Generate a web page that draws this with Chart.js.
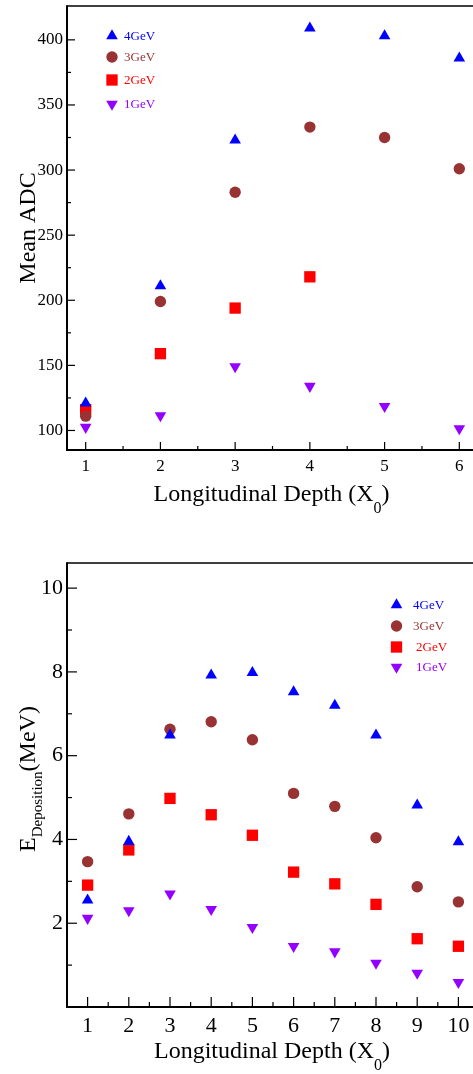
<!DOCTYPE html>
<html><head><meta charset="utf-8">
<script src="https://cdn.jsdelivr.net/npm/chart.js@4/dist/chart.umd.min.js"></script>
<style>
html,body{margin:0;padding:0;width:473px;height:1074px;overflow:hidden;background:#fff;}
canvas{position:absolute;left:0;}
#c1{top:0;}
#c2{top:540px;}
</style></head><body>
<canvas id="c1" width="478" height="530"></canvas>
<canvas id="c2" width="479" height="534"></canvas>
<script>
// ---------- data ----------
const seriesLabels = ['4GeV', '3GeV', '2GeV', '1GeV'];

const depthTop = [1, 2, 3, 4, 5, 6];
const adc4GeV = [121, 211, 323, 409, 403, 386];
const adc3GeV = [111, 199, 283, 333, 325, 301];
const adc2GeV = [116, 159, 194, 218];
const adc1GeV = [102.5, 111.5, 149, 134, 118.5, 101.5];

const depthBottom = [1, 2, 3, 4, 5, 6, 7, 8, 9, 10];
const edep4GeV = [2.55, 3.95, 6.49, 7.92, 7.98, 7.52, 7.20, 6.49, 4.82, 3.94];
const edep3GeV = [3.47, 4.61, 6.63, 6.81, 6.38, 5.10, 4.79, 4.04, 2.87, 2.51];
const edep2GeV = [2.91, 3.75, 4.98, 4.59, 4.10, 3.22, 2.94, 2.45, 1.63, 1.45];
const edep1GeV = [2.12, 2.30, 2.70, 2.33, 1.90, 1.45, 1.32, 1.05, 0.81, 0.59];

const topXTicks = [1, 2, 3, 4, 5, 6];
const topXMinor = [1.5, 2.5, 3.5, 4.5, 5.5];
const topYTicks = [100, 150, 200, 250, 300, 350, 400];
const topYMinor = [125, 175, 225, 275, 325, 375];
const botXTicks = [1, 2, 3, 4, 5, 6, 7, 8, 9, 10];
const botXMinor = [1.5, 2.5, 3.5, 4.5, 5.5, 6.5, 7.5, 8.5, 9.5];
const botYTicks = [2, 4, 6, 8, 10];
const botYMinor = [1, 3, 5, 7, 9];

// ---------- styles ----------
const SERIF = '"Liberation Serif", "DejaVu Serif", serif';
const seriesStyle = [
  {color: '#0000ff', pointStyle: 'triangle', radius: 6.7, rotation: 0},
  {color: '#993333', pointStyle: 'circle', radius: 5.7, rotation: 0},
  {color: '#ff0000', pointStyle: 'rect', radius: 8, rotation: 0},
  {color: '#9400ff', pointStyle: 'triangle', radius: 6.7, rotation: 180}
];

function makeDatasets(xs, seriesList) {
  return seriesList.map((ys, i) => ({
    label: seriesLabels[i],
    data: ys.map((y, j) => ({x: xs[j], y: y})),
    showLine: false,
    clip: false,
    pointStyle: seriesStyle[i].pointStyle,
    pointRadius: seriesStyle[i].radius,
    pointRotation: seriesStyle[i].rotation,
    pointBackgroundColor: seriesStyle[i].color,
    pointBorderColor: seriesStyle[i].color,
    pointBorderWidth: 0
  }));
}

const decor = {
  id: 'decor',
  afterDraw(chart, args, o) {
    const ctx = chart.ctx, a = chart.chartArea;
    const xs = chart.scales.x, ys = chart.scales.y;
    ctx.save();
    ctx.strokeStyle = '#000';
    ctx.lineWidth = 1.2;
    const seg = (x1, y1, x2, y2) => { ctx.beginPath(); ctx.moveTo(x1, y1); ctx.lineTo(x2, y2); ctx.stroke(); };
    o.xMajor.forEach(v => { const p = xs.getPixelForValue(v); seg(p, a.bottom, p, a.bottom - o.majorLen); });
    o.xMinor.forEach(v => { const p = xs.getPixelForValue(v); seg(p, a.bottom, p, a.bottom - o.minorLen); });
    o.yMajor.forEach(v => { const p = ys.getPixelForValue(v); seg(a.left, p, a.left + o.majorLen, p); });
    o.yMinor.forEach(v => { const p = ys.getPixelForValue(v); seg(a.left, p, a.left + o.minorLen, p); });
    // frame
    ctx.lineWidth = 1.5;
    seg(a.left, a.top, a.right, a.top);
    seg(a.right, a.top, a.right, a.bottom);
    ctx.lineWidth = 2;
    seg(a.left, a.top - 0.75, a.left, a.bottom + 1);
    seg(a.left - 1, a.bottom, a.right, a.bottom);

    ctx.fillStyle = '#000';
    ctx.textBaseline = 'alphabetic';
    ctx.textAlign = 'left';
    const measure = parts => parts.reduce((s, p) => { ctx.font = p.size + 'px ' + SERIF; return s + ctx.measureText(p.t).width; }, 0);
    // x title
    {
      const w = measure(o.xTitle);
      let x = (a.left + a.right) / 2 - w / 2 + o.xTitleShift;
      o.xTitle.forEach(p => { ctx.font = p.size + 'px ' + SERIF; ctx.fillText(p.t, x, o.xTitleBase + p.dy); x += ctx.measureText(p.t).width; });
    }
    // y title (rotated)
    {
      const w = measure(o.yTitle);
      ctx.save();
      ctx.translate(o.yTitleBase, (a.top + a.bottom) / 2 + o.yTitleShift);
      ctx.rotate(-Math.PI / 2);
      let x = -w / 2;
      o.yTitle.forEach(p => { ctx.font = p.size + 'px ' + SERIF; ctx.fillText(p.t, x, p.dy); x += ctx.measureText(p.t).width; });
      ctx.restore();
    }
    // legend
    chart.data.datasets.forEach((ds, i) => {
      const st = seriesStyle[i];
      const L = o.legend;
      const my = L.ys[i];
      ctx.fillStyle = st.color;
      ctx.strokeStyle = st.color;
      Chart.helpers.drawPoint(ctx, {pointStyle: st.pointStyle, radius: st.radius * L.scale, rotation: st.rotation, borderWidth: 0}, L.mx, my);
      ctx.font = L.font + 'px ' + SERIF;
      ctx.textBaseline = 'middle';
      ctx.fillText(ds.label, L.tx[i], my + 1);
      ctx.textBaseline = 'alphabetic';
    });
    ctx.restore();
  }
};

function zeroPad(s) { s.paddingTop = 0; s.paddingBottom = 0; s.paddingLeft = 0; s.paddingRight = 0; }

function makeChart(id, xs, seriesList, cfg) {
  const canvas = document.getElementById(id);
  return new Chart(canvas, {
    type: 'scatter',
    data: {datasets: makeDatasets(xs, seriesList)},
    options: {
      responsive: false,
      animation: false,
      devicePixelRatio: 1,
      events: [],
      layout: {autoPadding: false, padding: {top: cfg.padTop, left: 0, right: 0, bottom: 0}},
      plugins: {legend: {display: false}, tooltip: {enabled: false}, decor: cfg.decor},
      scales: {
        x: {
          type: 'linear', min: cfg.xMin, max: cfg.xMax,
          grid: {display: false, drawTicks: false}, border: {display: false},
          ticks: {font: {family: SERIF, size: cfg.tickFont}, color: '#000', padding: cfg.xPad, autoSkip: false, maxRotation: 0},
          afterBuildTicks: s => { s.ticks = cfg.decor.xMajor.map(v => ({value: v})); },
          afterFit: s => { s.height = canvas.height - cfg.plotBottom; zeroPad(s); }
        },
        y: {
          type: 'linear', min: cfg.yMin, max: cfg.yMax,
          grid: {display: false, drawTicks: false}, border: {display: false},
          ticks: {font: {family: SERIF, size: cfg.tickFont}, color: '#000', padding: 4, autoSkip: false},
          afterBuildTicks: s => { s.ticks = cfg.decor.yMajor.map(v => ({value: v})); },
          afterFit: s => { s.width = 67; zeroPad(s); }
        }
      }
    },
    plugins: [decor]
  });
}

makeChart('c1', depthTop, [adc4GeV, adc3GeV, adc2GeV, adc1GeV], {
  padTop: 6, plotBottom: 450, xMin: 0.75, xMax: 6.25, yMin: 85, yMax: 426, tickFont: 17, xPad: 6,
  decor: {
    xMajor: topXTicks, xMinor: topXMinor, yMajor: topYTicks, yMinor: topYMinor, majorLen: 8, minorLen: 4,
    xTitle: [{t: 'Longitudinal Depth (X', size: 24, dy: 0}, {t: '0', size: 16, dy: 12}, {t: ')', size: 24, dy: 0}],
    xTitleBase: 501, xTitleShift: -1,
    yTitle: [{t: 'Mean ADC', size: 24, dy: 0}],
    yTitleBase: 35, yTitleShift: 0,
    legend: {mx: 112, ys: [36, 57, 80, 104], tx: [124, 124, 124, 124], font: 13, scale: 1}
  }
});

makeChart('c2', depthBottom, [edep4GeV, edep3GeV, edep2GeV, edep1GeV], {
  padTop: 23, plotBottom: 467, xMin: 0.5, xMax: 10.5, yMin: 0, yMax: 10.6, tickFont: 22, xPad: 6,
  decor: {
    xMajor: botXTicks, xMinor: botXMinor, yMajor: botYTicks, yMinor: botYMinor, majorLen: 10, minorLen: 5,
    xTitle: [{t: 'Longitudinal Depth (X', size: 24, dy: 0}, {t: '0', size: 16, dy: 12}, {t: ')', size: 24, dy: 0}],
    xTitleBase: 518, xTitleShift: -1,
    yTitle: [{t: 'E', size: 24, dy: 0}, {t: 'Deposition', size: 15, dy: 7}, {t: '(MeV)', size: 24, dy: 0}],
    yTitleBase: 35, yTitleShift: -6,
    legend: {mx: 396.5, ys: [65, 86, 107, 127], tx: [413, 413, 416, 416], font: 13, scale: 1}
  }
});
</script>
</body></html>
